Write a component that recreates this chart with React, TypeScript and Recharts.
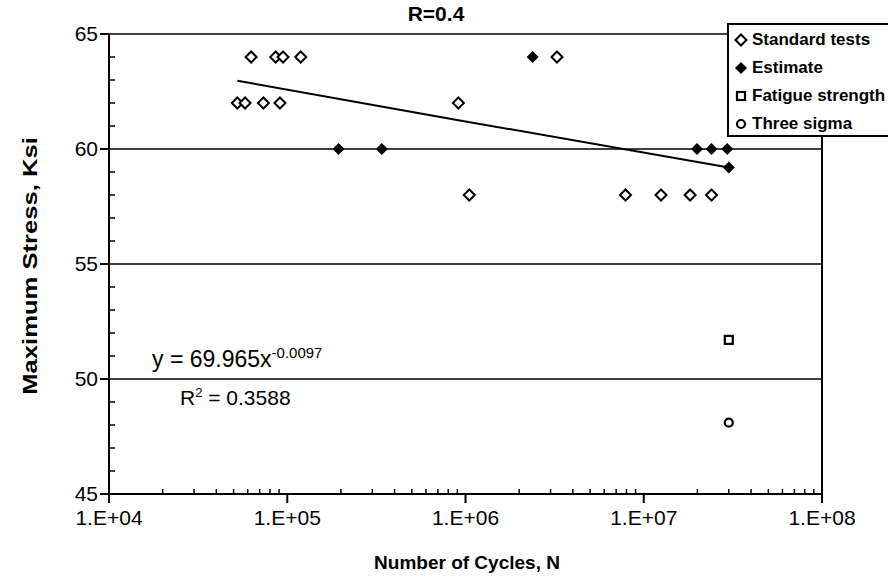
import React from "react";
import { ScatterChart, Scatter, XAxis, YAxis, ReferenceLine } from "recharts";

const xMajorTicks = [1e4, 1e5, 1e6, 1e7, 1e8];
const xMinorTicks = [
  2e4, 3e4, 4e4, 5e4, 6e4, 7e4, 8e4, 9e4,
  2e5, 3e5, 4e5, 5e5, 6e5, 7e5, 8e5, 9e5,
  2e6, 3e6, 4e6, 5e6, 6e6, 7e6, 8e6, 9e6,
  2e7, 3e7, 4e7, 5e7, 6e7, 7e7, 8e7, 9e7,
];
const yMajorTicks = [45, 50, 55, 60, 65];
const yMinorTicks = [46, 47, 48, 49, 51, 52, 53, 54, 56, 57, 58, 59, 61, 62, 63, 64];

// open diamonds
const standardTests = [
  { x: 62700, y: 64 },
  { x: 86100, y: 64 },
  { x: 94700, y: 64 },
  { x: 119000, y: 64 },
  { x: 3260000, y: 64 },
  { x: 52500, y: 62 },
  { x: 58000, y: 62 },
  { x: 73500, y: 62 },
  { x: 91000, y: 62 },
  { x: 912000, y: 62 },
  { x: 1050000, y: 58 },
  { x: 7900000, y: 58 },
  { x: 12500000, y: 58 },
  { x: 18200000, y: 58 },
  { x: 24000000, y: 58 },
];

// filled diamonds
const estimate = [
  { x: 2380000, y: 64 },
  { x: 194000, y: 60 },
  { x: 339000, y: 60 },
  { x: 19900000, y: 60 },
  { x: 24000000, y: 60 },
  { x: 29400000, y: 60 },
  { x: 30000000, y: 59.2 },
];

const fatigueStrength = [{ x: 30000000, y: 51.7 }];
const threeSigma = [{ x: 30000000, y: 48.1 }];

// power trendline
const trendLine = [
  { x: 52500, y: 62.97 },
  { x: 1000000, y: 61.2 },
  { x: 30000000, y: 59.2 },
];

const FONT = "'Liberation Sans', Arial, sans-serif";

const fmtTick = (v: number) => `1.E+0${Math.round(Math.log10(v))}`;

const OpenDiamond = (p: any) => (
  <path
    d={`M${p.cx},${p.cy - 5.5} L${p.cx + 5.5},${p.cy} L${p.cx},${p.cy + 5.5} L${p.cx - 5.5},${p.cy} Z`}
    fill="#fff"
    stroke="#000"
    strokeWidth={2}
  />
);
const FilledDiamond = (p: any) => (
  <path
    d={`M${p.cx},${p.cy - 6} L${p.cx + 6},${p.cy} L${p.cx},${p.cy + 6} L${p.cx - 6},${p.cy} Z`}
    fill="#000"
  />
);
const OpenSquare = (p: any) => (
  <rect x={p.cx - 4} y={p.cy - 4} width={8} height={8} fill="#fff" stroke="#000" strokeWidth={2.2} />
);
const OpenCircle = (p: any) => (
  <circle cx={p.cx} cy={p.cy} r={4} fill="#fff" stroke="#000" strokeWidth={2.2} />
);
const NoDot = () => <g />;

// major ticks point outward with a label, minor ticks point inward
const XTick = (p: any) => {
  const v = p.payload.value;
  if (!xMajorTicks.includes(v)) {
    return <line x1={p.x} x2={p.x} y1={p.y} y2={p.y - 5} stroke="#000" strokeWidth={1.5} />;
  }
  return (
    <g>
      <line x1={p.x} x2={p.x} y1={p.y} y2={p.y + 9} stroke="#000" strokeWidth={2} />
      <text x={p.x} y={p.y + 16} dy="0.71em" textAnchor="middle" fontFamily={FONT} fontSize={21} fill="#000">
        {fmtTick(v)}
      </text>
    </g>
  );
};

const YTick = (p: any) => {
  const v = p.payload.value;
  if (!yMajorTicks.includes(v)) {
    return <line x1={p.x} x2={p.x + 6} y1={p.y} y2={p.y} stroke="#000" strokeWidth={1.5} />;
  }
  return (
    <g>
      <line x1={p.x - 9} x2={p.x} y1={p.y} y2={p.y} stroke="#000" strokeWidth={2} />
      <text x={p.x - 11} y={p.y} dy="0.355em" textAnchor="end" fontFamily={FONT} fontSize={21} fill="#000">
        {v}
      </text>
    </g>
  );
};

const legendItems = [
  { name: "Standard tests", Shape: OpenDiamond },
  { name: "Estimate", Shape: FilledDiamond },
  { name: "Fatigue strength", Shape: OpenSquare },
  { name: "Three sigma", Shape: OpenCircle },
];

export default function App() {
  return (
    <div
      style={{
        position: "absolute",
        left: 0,
        top: 0,
        width: 888,
        height: 588,
        overflow: "hidden",
        background: "#fff",
        fontFamily: FONT,
      }}
    >
      <ScatterChart width={888} height={588} margin={{ top: 34, right: 66, bottom: 54, left: 0 }}>
        <XAxis
          dataKey="x"
          type="number"
          scale="log"
          domain={[1e4, 1e8]}
          ticks={[...xMajorTicks, ...xMinorTicks]}
          interval={0}
          tick={XTick}
          tickSize={0}
          tickMargin={0}
          tickLine={false}
          height={40}
          axisLine={{ stroke: "#000", strokeWidth: 2 }}
        />
        <YAxis
          dataKey="y"
          type="number"
          domain={[45, 65]}
          ticks={[...yMajorTicks, ...yMinorTicks]}
          interval={0}
          tick={YTick}
          tickSize={0}
          tickMargin={0}
          tickLine={false}
          width={109}
          axisLine={{ stroke: "#000", strokeWidth: 2 }}
        />
        {yMajorTicks.map((v) => (
          <ReferenceLine key={v} y={v} stroke="#000" strokeWidth={1.5} ifOverflow="visible" />
        ))}
        <ReferenceLine x={1e8} stroke="#000" strokeWidth={2} ifOverflow="visible" />
        <Scatter
          name="trend"
          data={trendLine}
          line={{ stroke: "#000", strokeWidth: 2 }}
          shape={NoDot}
          legendType="none"
          isAnimationActive={false}
        />
        <Scatter name="Standard tests" data={standardTests} shape={OpenDiamond} isAnimationActive={false} />
        <Scatter name="Estimate" data={estimate} shape={FilledDiamond} isAnimationActive={false} />
        <Scatter name="Fatigue strength" data={fatigueStrength} shape={OpenSquare} isAnimationActive={false} />
        <Scatter name="Three sigma" data={threeSigma} shape={OpenCircle} isAnimationActive={false} />
      </ScatterChart>

      <div
        style={{
          position: "absolute",
          left: 436,
          top: 2,
          transform: "translateX(-50%)",
          whiteSpace: "nowrap",
          fontWeight: "bold",
          fontSize: 21,
        }}
      >
        R=0.4
      </div>

      <div
        style={{
          position: "absolute",
          left: 727,
          top: 23,
          width: 190,
          height: 114,
          border: "2px solid #000",
          background: "#fff",
          boxSizing: "border-box",
          padding: "1px 0 0 5px",
        }}
      >
        {legendItems.map(({ name, Shape }) => (
          <div
            key={name}
            style={{ display: "flex", alignItems: "center", height: 28, fontSize: 17, fontWeight: "bold", whiteSpace: "nowrap" }}
          >
            <svg width={14} height={14} style={{ marginRight: 4 }}>
              <Shape cx={7} cy={7} />
            </svg>
            {name}
          </div>
        ))}
      </div>

      <div
        style={{
          position: "absolute",
          left: 30,
          top: 266,
          transform: "translate(-50%, -50%) rotate(-90deg) scaleX(1.28)",
          whiteSpace: "nowrap",
          fontWeight: "bold",
          fontSize: 20,
        }}
      >
        Maximum Stress, Ksi
      </div>
      <div
        style={{
          position: "absolute",
          left: 467,
          top: 552,
          transform: "translateX(-50%)",
          whiteSpace: "nowrap",
          fontWeight: "bold",
          fontSize: 19,
        }}
      >
        Number of Cycles, N
      </div>

      <div style={{ position: "absolute", left: 152, top: 344, fontSize: 23, whiteSpace: "nowrap" }}>
        y = 69.965x<sup style={{ fontSize: 15 }}>-0.0097</sup>
      </div>
      <div style={{ position: "absolute", left: 180, top: 385, fontSize: 21, whiteSpace: "nowrap" }}>
        R<sup style={{ fontSize: 13 }}>2</sup> = 0.3588
      </div>
    </div>
  );
}
